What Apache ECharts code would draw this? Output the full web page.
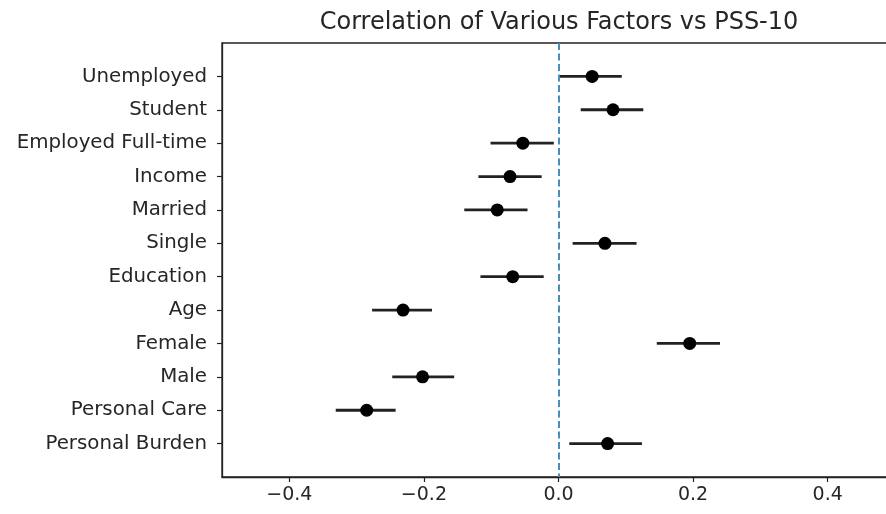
<!DOCTYPE html>
<html>
<head>
<meta charset="utf-8">
<script src="https://cdn.jsdelivr.net/npm/echarts@6/dist/echarts.min.js"></script>
<style>html,body{margin:0;padding:0;background:#fff;}#c{width:886px;height:514px;}</style>
</head>
<body>
<div id="c"></div>
<script>
var categories = ['Unemployed','Student','Employed Full-time','Income','Married','Single','Education','Age','Female','Male','Personal Care','Personal Burden'];
var estimates = [0.050, 0.081, -0.053, -0.072, -0.091, 0.069, -0.068, -0.231, 0.195, -0.202, -0.285, 0.073];
var lowerCI = [0.000, 0.033, -0.101, -0.119, -0.140, 0.021, -0.116, -0.277, 0.146, -0.247, -0.331, 0.016];
var upperCI = [0.094, 0.126, -0.007, -0.025, -0.046, 0.116, -0.022, -0.188, 0.240, -0.155, -0.242, 0.124];
var xTicks = [-0.4, -0.2, 0.0, 0.2, 0.4];
var titleText = 'Correlation of Various Factors vs PSS-10';

var font = 'DejaVu Sans';
var txt = '#262626';
var yIdx = categories.map(function(_, i){ return i; });

var chart = echarts.init(document.getElementById('c'), null, {renderer: 'canvas'});
chart.setOption({
  animation: false,
  backgroundColor: '#fff',
  title: {
    text: titleText, left: 554, top: 6, textAlign: 'center',
    textStyle: {fontFamily: font, fontSize: 24, fontWeight: 'normal', color: txt}
  },
  grid: {left: 222, width: 673, top: 43, bottom: 37, containLabel: false, outerBoundsMode: 'none',
         show: true, borderColor: '#222', borderWidth: 1.3, backgroundColor: 'transparent'},
  xAxis: {
    type: 'value', min: -0.5, max: 0.5,
    axisLine: {show: true, onZero: false, lineStyle: {color: '#222', width: 1.3}},
    splitLine: {show: false},
    axisTick: {show: true, length: 5, customValues: xTicks, lineStyle: {color: '#222', width: 1.2}},
    axisLabel: {
      customValues: xTicks, margin: 9, fontFamily: font, fontSize: 19, color: txt,
      formatter: function(v){ return (v < -1e-9 ? '\u2212' : '') + Math.abs(v).toFixed(1); }
    }
  },
  yAxis: {
    type: 'value', min: -1, max: 12, inverse: true,
    axisLine: {show: true, onZero: false, lineStyle: {color: '#222', width: 1.3}},
    splitLine: {show: false},
    axisTick: {show: true, length: 5, customValues: yIdx, lineStyle: {color: '#222', width: 1.2}},
    axisLabel: {
      customValues: yIdx, margin: 15, fontFamily: font, fontSize: 19.8, color: txt,
      formatter: function(v){ return categories[Math.round(v)] || ''; }
    }
  },
  series: [
    {
      type: 'custom',
      data: yIdx.map(function(i){ return [lowerCI[i], upperCI[i], i]; }),
      renderItem: function(params, api){
        var p1 = api.coord([api.value(0), api.value(2)]);
        var p2 = api.coord([api.value(1), api.value(2)]);
        return {type: 'line', shape: {x1: p1[0], y1: p1[1], x2: p2[0], y2: p2[1]},
                style: {stroke: '#222', lineWidth: 2.8}};
      },
      markLine: {
        silent: true, symbol: 'none', label: {show: false},
        lineStyle: {color: '#4a8cbb', width: 2, type: [7, 3.5]},
        data: [{xAxis: 0}]
      },
      z: 2
    },
    {
      type: 'scatter',
      data: yIdx.map(function(i){ return [estimates[i], i]; }),
      symbol: 'circle', symbolSize: 13,
      itemStyle: {color: '#000', opacity: 1},
      z: 3
    }
  ]
});
</script>
</body>
</html>
